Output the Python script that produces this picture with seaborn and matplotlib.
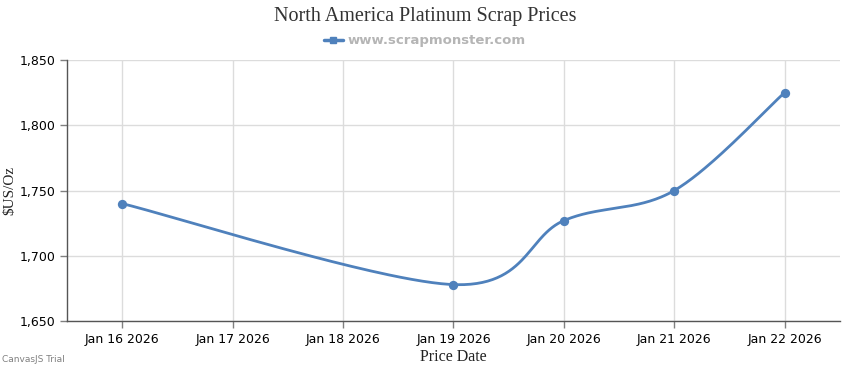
import numpy as np
import pandas as pd
import matplotlib.pyplot as plt
import seaborn as sns

# price data
dates = ["2026-01-16", "2026-01-19", "2026-01-20", "2026-01-21", "2026-01-22"]
prices = [1740, 1678, 1727, 1750, 1825]
tick_labels = ["Jan 16 2026", "Jan 17 2026", "Jan 18 2026", "Jan 19 2026",
               "Jan 20 2026", "Jan 21 2026", "Jan 22 2026"]
y_ticks = [1650, 1700, 1750, 1800, 1850]

LINE_BLUE = "#4F81BC"

sns.set_theme(style="white")
plt.rcParams['font.family'] = ['DejaVu Sans']

df = pd.DataFrame({"date": pd.to_datetime(dates), "price": prices})
df["day"] = (df["date"] - df["date"].min()).dt.days


def spline_path(x, y, sx, sy, tension=6.0, n=60):
    # smooth path through the points (canvas style spline), done in pixel-ish units
    px = np.asarray(x, float) * sx
    py = np.asarray(y, float) * sy
    pts = np.column_stack([px, py])
    pts = np.vstack([pts[0], pts, pts[-1]])
    out = []
    for i in range(1, len(pts) - 2):
        p0, p1, p2, p3 = pts[i - 1], pts[i], pts[i + 1], pts[i + 2]
        c1 = p1 + (p2 - p0) / tension
        c2 = p2 - (p3 - p1) / tension
        t = np.linspace(0, 1, n)[:, None]
        seg = (1 - t) ** 3 * p1 + 3 * (1 - t) ** 2 * t * c1 + 3 * (1 - t) * t ** 2 * c2 + t ** 3 * p2
        out.append(seg)
    out = np.vstack(out)
    return out[:, 0] / sx, out[:, 1] / sy


fig = plt.figure(figsize=(8.5, 3.7), dpi=100)
ax = fig.add_axes([0.079, 0.132, 0.909, 0.706])

cx, cy = spline_path(df["day"], df["price"], 110.5, 1.305, tension=6.0)
ax.plot(cx, cy, color=LINE_BLUE, lw=2, zorder=3)
sns.scatterplot(x="day", y="price", data=df, color=LINE_BLUE, s=45,
                edgecolor=LINE_BLUE, linewidth=0, ax=ax, zorder=4)

ax.set_xlim(-0.5, 6.5)
ax.set_ylim(1650, 1850)
ax.set_xticks(range(len(tick_labels)))
ax.set_xticklabels(tick_labels)
ax.set_yticks(y_ticks)
ax.set_yticklabels([f"{v:,}" for v in y_ticks])
ax.tick_params(axis="both", labelsize=9, colors="#000000", length=5, width=1,
               direction="out", bottom=True, left=True, color="#808080")
ax.grid(True, color="#dcdcdc", lw=1)
ax.set_axisbelow(True)
for s in ["top", "right"]:
    ax.spines[s].set_visible(False)
for s in ["left", "bottom"]:
    ax.spines[s].set_color("#555555")
    ax.spines[s].set_linewidth(1)

ax.set_xlabel("Price Date", family="Liberation Serif", fontsize=11.5, color="#222222", labelpad=2)
ax.set_ylabel("$US/Oz", family="Liberation Serif", fontsize=11, color="#222222")
ax.yaxis.set_label_coords(-0.066, 0.5)

fig.text(0.5, 0.955, "North America Platinum Scrap Prices", ha="center", va="center",
         family="Liberation Serif", fontsize=14.5, color="#333333")

# legend under the title
ax.plot([], [], color=LINE_BLUE, lw=2.5, marker="s", markersize=5,
        label="www.scrapmonster.com")
leg = fig.legend(loc="center", bbox_to_anchor=(0.5, 0.89), frameon=False, fontsize=9.5,
                 handlelength=1.4, handletextpad=0.4, borderpad=0)
for t in leg.get_texts():
    t.set_color("#b5b5b5")
    t.set_fontweight("bold")

fig.text(0.002, 0.015, "CanvasJS Trial", fontsize=6.5, color="#808080", ha="left", va="bottom")

fig.savefig("out.png", dpi=100)
